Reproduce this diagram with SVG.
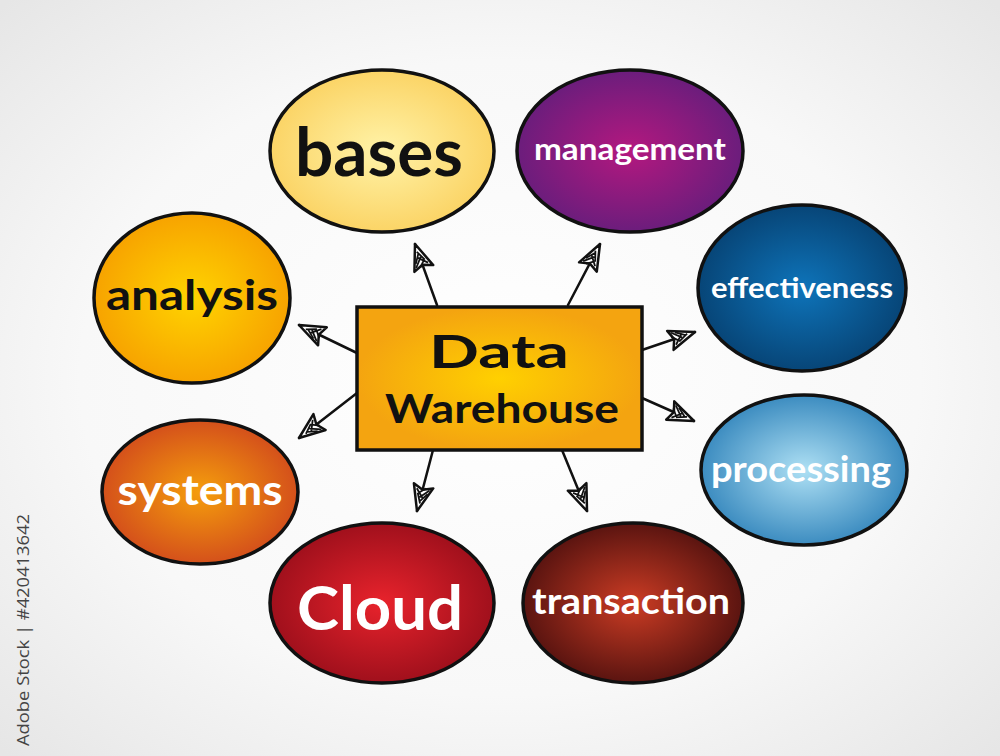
<svg xmlns="http://www.w3.org/2000/svg" width="1000" height="756" viewBox="0 0 1000 756">
  <defs>
    <radialGradient id="bg" cx="50%" cy="50%" r="70%">
      <stop offset="0" stop-color="#ffffff"/>
      <stop offset="0.6" stop-color="#f8f8f8"/>
      <stop offset="1" stop-color="#e6e6e6"/>
    </radialGradient>
    <radialGradient id="gBases"><stop offset="0" stop-color="#fff3a8"/><stop offset="1" stop-color="#fbd466"/></radialGradient>
    <radialGradient id="gMgmt"><stop offset="0" stop-color="#b4187f"/><stop offset="1" stop-color="#6b1d7c"/></radialGradient>
    <radialGradient id="gAnalysis"><stop offset="0" stop-color="#ffd400"/><stop offset="1" stop-color="#f7a300"/></radialGradient>
    <radialGradient id="gEff"><stop offset="0" stop-color="#0e74ba"/><stop offset="1" stop-color="#074577"/></radialGradient>
    <radialGradient id="gSys"><stop offset="0" stop-color="#f59e0c"/><stop offset="1" stop-color="#d4501b"/></radialGradient>
    <radialGradient id="gProc"><stop offset="0" stop-color="#aee0f4"/><stop offset="1" stop-color="#3c8cc0"/></radialGradient>
    <radialGradient id="gCloud"><stop offset="0" stop-color="#e8232c"/><stop offset="1" stop-color="#a0101c"/></radialGradient>
    <radialGradient id="gTrans"><stop offset="0" stop-color="#cc3c24"/><stop offset="1" stop-color="#5a1410"/></radialGradient>
    <radialGradient id="gCenter"><stop offset="0" stop-color="#ffd000"/><stop offset="1" stop-color="#f4a410"/></radialGradient>
    <marker id="head" viewBox="0 0 30 24" refX="28" refY="12" markerWidth="30" markerHeight="24" markerUnits="userSpaceOnUse" orient="auto">
      <path d="M2,2 L28,12 L2,22 L6,12 Z" fill="#ffffff" stroke="#111" stroke-width="2.5" stroke-linejoin="round"/>
      <path d="M5,5 L14,13 M9,6 L18,12 M6,18 L14,10 M10,16 L20,11 M4,9 L10,15" stroke="#111" stroke-width="1.8"/>
    </marker>
    <style>
      .bubble { stroke: #111; stroke-width: 3.5; }
      .lbl { font-family: "Lato", "Open Sans", "Liberation Sans", sans-serif; font-weight: bold; text-anchor: middle; }
      .dark { fill: #111; }
      .light { fill: #ffffff; }
      .conn { stroke: #111; stroke-width: 2.5; fill: none; stroke-linecap: round; }
    </style>
  </defs>

  <rect x="0" y="0" width="1000" height="756" fill="url(#bg)"/>

  <g id="connectors">
    <line class="conn" x1="437" y1="305" x2="415" y2="244" marker-end="url(#head)"/>
    <line class="conn" x1="568" y1="305" x2="600" y2="244" marker-end="url(#head)"/>
    <line class="conn" x1="357" y1="353" x2="299" y2="325" marker-end="url(#head)"/>
    <line class="conn" x1="357" y1="393" x2="299" y2="438" marker-end="url(#head)"/>
    <line class="conn" x1="642" y1="350" x2="695" y2="332" marker-end="url(#head)"/>
    <line class="conn" x1="642" y1="398" x2="694" y2="421" marker-end="url(#head)"/>
    <line class="conn" x1="433" y1="450" x2="417" y2="511" marker-end="url(#head)"/>
    <line class="conn" x1="562" y1="450" x2="587" y2="511" marker-end="url(#head)"/>
  </g>

  <g id="center">
    <rect x="357" y="307" width="285" height="143" fill="url(#gCenter)" stroke="#111" stroke-width="3.5"/>
    <text class="lbl dark" x="499" y="368" font-size="46" textLength="140" lengthAdjust="spacingAndGlyphs">Data</text>
    <text class="lbl dark" x="502" y="423" font-size="40" textLength="234" lengthAdjust="spacingAndGlyphs">Warehouse</text>
  </g>

  <g id="bases">
    <ellipse class="bubble" cx="382" cy="151" rx="112" ry="81" fill="url(#gBases)"/>
    <text class="lbl dark" x="379" y="176" font-size="66" textLength="168" lengthAdjust="spacingAndGlyphs">bases</text>
  </g>

  <g id="management">
    <ellipse class="bubble" cx="630" cy="151" rx="113" ry="81" fill="url(#gMgmt)"/>
    <text class="lbl light" x="630" y="160" font-size="30" textLength="192" lengthAdjust="spacingAndGlyphs">management</text>
  </g>

  <g id="analysis">
    <ellipse class="bubble" cx="192" cy="298" rx="98" ry="85" fill="url(#gAnalysis)"/>
    <text class="lbl dark" x="192" y="310" font-size="42" textLength="172" lengthAdjust="spacingAndGlyphs">analysis</text>
  </g>

  <g id="effectiveness">
    <ellipse class="bubble" cx="802" cy="288" rx="104" ry="83" fill="url(#gEff)"/>
    <text class="lbl light" x="802" y="298" font-size="28" textLength="182" lengthAdjust="spacingAndGlyphs">effectiveness</text>
  </g>

  <g id="systems">
    <ellipse class="bubble" cx="200" cy="492" rx="98" ry="72" fill="url(#gSys)"/>
    <text class="lbl light" x="200" y="505" font-size="42" textLength="165" lengthAdjust="spacingAndGlyphs">systems</text>
  </g>

  <g id="processing">
    <ellipse class="bubble" cx="804" cy="470" rx="103" ry="75" fill="url(#gProc)"/>
    <text class="lbl light" x="801" y="482" font-size="36" textLength="180" lengthAdjust="spacingAndGlyphs">processing</text>
  </g>

  <g id="cloud">
    <ellipse class="bubble" cx="382" cy="603" rx="112" ry="80" fill="url(#gCloud)"/>
    <text class="lbl light" x="380" y="630" font-size="62" textLength="166" lengthAdjust="spacingAndGlyphs">Cloud</text>
  </g>

  <g id="transaction">
    <ellipse class="bubble" cx="633" cy="603" rx="110" ry="80" fill="url(#gTrans)"/>
    <text class="lbl light" x="631" y="614" font-size="36" textLength="198" lengthAdjust="spacingAndGlyphs">transaction</text>
  </g>

  <text x="0" y="0" transform="translate(29,746) rotate(-90)" font-family="'Open Sans', 'Liberation Sans', sans-serif" font-size="16" fill="#444" textLength="232" lengthAdjust="spacingAndGlyphs">Adobe Stock | #420413642</text>
</svg>
